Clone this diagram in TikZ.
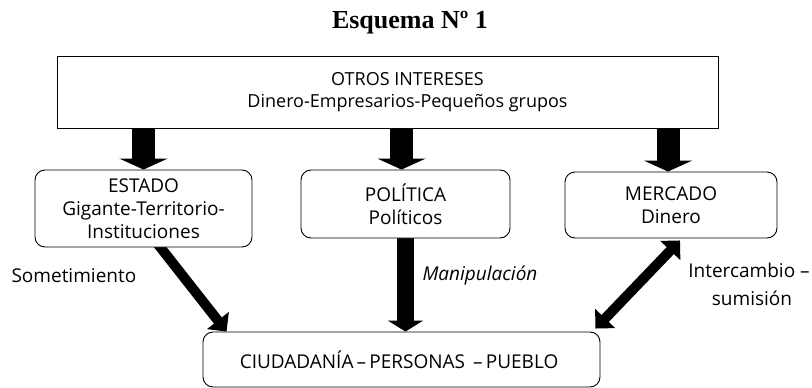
\documentclass[tikz,border=0pt]{standalone}
\usepackage{fontspec}
\setmainfont{Open Sans}
\newfontfamily\titlefont{Liberation Serif}
\usetikzlibrary{arrows.meta,calc,backgrounds}

\begin{document}
\begin{tikzpicture}[
    x=1pt, y=-1pt,
    box/.style={rectangle, draw, fill=white, line width=0.9pt, align=center, inner sep=0pt, font=\fontsize{19}{23}\selectfont},
    roundbox/.style={box, rounded corners=10pt},
    fatarrow/.style={-{Triangle[width=48pt,length=11pt]}, line width=23pt},
    midarrow/.style={-{Triangle[width=35pt,length=11pt]}, line width=17pt},
    slimarrow/.style={-{Triangle[width=27pt,length=14pt]}, line width=10pt},
    tag/.style={font=\fontsize{19}{23}\selectfont, anchor=base}
]
\useasboundingbox (0,0) rectangle (812,388);

% Title
\node[anchor=base, font=\titlefont\bfseries\fontsize{26}{29}\selectfont] (title) at (410,28) {Esquema Nº 1};

% Boxes
\node[box, font=\fontsize{18}{22}\selectfont, minimum width=661pt, minimum height=72pt] (otros) at (387.5,92) {
    \hspace*{40pt}OTROS INTERESES\\
    \hspace*{40pt}Dinero-Empresarios-Pequeños grupos
};

\node[roundbox, minimum width=217pt, minimum height=77pt] (estado) at (143.5,208.5) {
    ESTADO\\
    Gigante-Territorio-\\
    Instituciones
};

\node[roundbox, minimum width=209pt, minimum height=68pt] (politica) at (405.5,204) {
    POLÍTICA\\
    Políticos
};

\node[roundbox, minimum width=212pt, minimum height=66pt] (mercado) at (671,205) {
    MERCADO\\
    Dinero
};

\node[roundbox, minimum width=397pt, minimum height=55pt] (ciudadania) at (401.5,359.5) {
    CIUDADANÍA\,–\,PERSONAS \,–\,PUEBLO
};

% Arrows
\begin{scope}[on background layer]
\draw[fatarrow] (estado.north |- otros.south) -- (estado.north);
\draw[fatarrow] ($(politica.north |- otros.south)+(-4,0)$) -- ($(politica.north)+(-4,0)$);
\draw[fatarrow] ($(mercado.north |- otros.south)+(-3,0)$) -- ($(mercado.north)+(-3,0)$);
\draw[midarrow] (politica.south) -- (politica.south |- ciudadania.north);
\draw[slimarrow] ($(estado.south)+(11.5,-7)$) -- ($(ciudadania.north west)+(24,0)$);
\draw[slimarrow, {Triangle[width=27pt,length=14pt]}-{Triangle[width=27pt,length=14pt]}] ($(mercado.south)+(9,2)$) -- ($(ciudadania.north east)+(-5,-3)$);
\end{scope}

% Arrow labels
\node[tag, anchor=base west] (someter) at (8,282) {Sometimiento};
\node[tag, anchor=base west, font=\fontsize{19}{23}\selectfont\itshape] (manipular) at (419,280) {Manipulación};
\node[tag] (intercambio) at (749,277) {Intercambio –};
\node[tag] (sumision) at (752,305) {sumisión};

\end{tikzpicture}
\end{document}
